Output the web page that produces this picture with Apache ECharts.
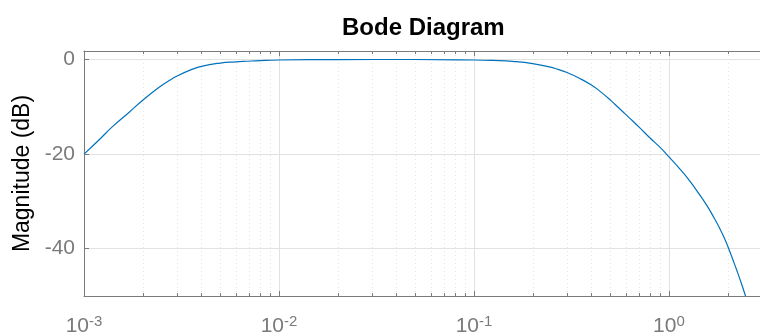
<!DOCTYPE html>
<html>
<head>
<meta charset="utf-8">
<script src="https://cdn.jsdelivr.net/npm/echarts@6/dist/echarts.min.js"></script>
<style>
  html, body { margin: 0; padding: 0; background: #fff; }
  #chart { width: 760px; height: 334px; }
</style>
</head>
<body>
<div id="chart"></div>
<script>
// frequency (rad/s) and magnitude (dB)
var freq = [0.001, 0.0012, 0.0014, 0.0017, 0.002, 0.00244, 0.0027, 0.003, 0.0035, 0.004,
  0.005, 0.006, 0.0068, 0.008, 0.01, 0.02, 0.05,
  0.1, 0.125, 0.158, 0.2, 0.244, 0.27, 0.3, 0.347, 0.4, 0.45, 0.506, 0.55, 0.6, 0.65,
  0.707, 0.8, 0.914, 1.0, 1.13, 1.28, 1.42, 1.56, 1.7, 1.82, 1.93, 2.03, 2.13, 2.22,
  2.35, 2.47];
var mag = [-20, -16.9, -14.2, -11.2, -8.6, -5.8, -4.6, -3.5, -2.25, -1.45,
  -0.75, -0.5, -0.37, -0.22, -0.1, -0.01, 0,
  -0.1, -0.2, -0.4, -0.85, -1.56, -2.1, -2.75, -3.95, -5.4, -6.95, -8.75, -10.15, -11.6, -12.95,
  -14.4, -16.6, -18.85, -20.6, -23.0, -25.7, -28.3, -30.8, -33.4, -35.7, -37.9, -40.1, -42.4, -44.4,
  -47.3, -50];

// axis ticks
var magTicks = [-40, -20, 0];
var minorFreq = [0.002, 0.003, 0.004, 0.005, 0.006, 0.007, 0.008, 0.009,
  0.02, 0.03, 0.04, 0.05, 0.06, 0.07, 0.08, 0.09,
  0.2, 0.3, 0.4, 0.5, 0.6, 0.7, 0.8, 0.9, 2];

var xMin = 0.001, xMax = 2.93;
var yMin = -50, yMax = 1.8;

var axisGray = '#7a7a7a';
var font = 'Liberation Sans, Arial, Helvetica, sans-serif';

var chart = echarts.init(document.getElementById('chart'));

var lineData = [];
for (var i = 0; i < freq.length; i++) {
  lineData.push([freq[i], mag[i]]);
}

function powLabel(v) {
  var e = Math.round(Math.log10(v));
  if (Math.abs(Math.log10(v) - e) > 1e-6) return '';
  return '{b|10}{s|' + e + '}';
}

var option = {
  animation: false,
  title: {
    text: 'Bode Diagram',
    left: 337,
    top: 11,
    textStyle: { fontFamily: font, fontSize: 24, fontWeight: 'bold', color: '#000' }
  },
  grid: { left: 84, right: 0, top: 51, bottom: 38, outerBoundsMode: 'none', containLabel: false },
  xAxis: [
    {
      type: 'log',
      logBase: 10,
      min: xMin,
      max: xMax,
      position: 'bottom',
      axisLine: { show: true, onZero: false, lineStyle: { color: axisGray, width: 1 } },
      axisTick: { show: true, inside: true, length: 5, lineStyle: { color: axisGray } },
      splitLine: { show: true, lineStyle: { color: '#e2e2e2', width: 1 } },
      axisLabel: {
        margin: 18,
        formatter: powLabel,
        rich: {
          b: { fontFamily: font, fontSize: 21, color: axisGray, lineHeight: 24 },
          s: { fontFamily: font, fontSize: 15, color: axisGray, lineHeight: 15, verticalAlign: 'top' }
        }
      }
    },
    {
      type: 'log',
      logBase: 10,
      min: xMin,
      max: xMax,
      position: 'top',
      axisLine: { show: true, onZero: false, lineStyle: { color: axisGray, width: 1 } },
      axisTick: { show: true, inside: true, length: 5, lineStyle: { color: axisGray } },
      splitLine: { show: false },
      axisLabel: { show: false }
    }
  ],
  yAxis: {
    type: 'value',
    min: yMin,
    max: yMax,
    name: 'Magnitude (dB)',
    nameLocation: 'middle',
    nameGap: 50,
    nameTextStyle: { fontFamily: font, fontSize: 23, color: '#000' },
    axisLine: { show: true, onZero: false, lineStyle: { color: axisGray, width: 1 } },
    axisTick: { show: true, inside: true, length: 5, customValues: magTicks, lineStyle: { color: axisGray } },
    splitLine: { show: true, lineStyle: { color: '#e2e2e2', width: 1 } },
    axisLabel: {
      customValues: magTicks,
      margin: 9,
      fontFamily: font,
      fontSize: 21,
      color: axisGray
    }
  },
  series: [
    {
      // minor log grid + minor ticks
      type: 'custom',
      silent: true,
      z: 1,
      data: minorFreq.map(function (v) { return [v, 0]; }),
      renderItem: function (params, api) {
        var x = Math.round(api.coord([api.value(0), 0])[0]) + 0.5;
        var cs = params.coordSys;
        var top = cs.y, bot = cs.y + cs.height;
        return {
          type: 'group',
          children: [
            { type: 'line', shape: { x1: x, y1: top, x2: x, y2: bot },
              style: { stroke: '#e4e4e4', lineWidth: 1, lineDash: [1, 3] } },
            { type: 'line', shape: { x1: x, y1: top, x2: x, y2: top + 3 },
              style: { stroke: axisGray, lineWidth: 1 } },
            { type: 'line', shape: { x1: x, y1: bot - 3, x2: x, y2: bot },
              style: { stroke: axisGray, lineWidth: 1 } }
          ]
        };
      }
    },
    {
      type: 'line',
      data: lineData,
      smooth: 0.5,
      showSymbol: false,
      z: 5,
      lineStyle: { color: '#0072BD', width: 1.2 }
    }
  ]
};

chart.setOption(option);
</script>
</body>
</html>
